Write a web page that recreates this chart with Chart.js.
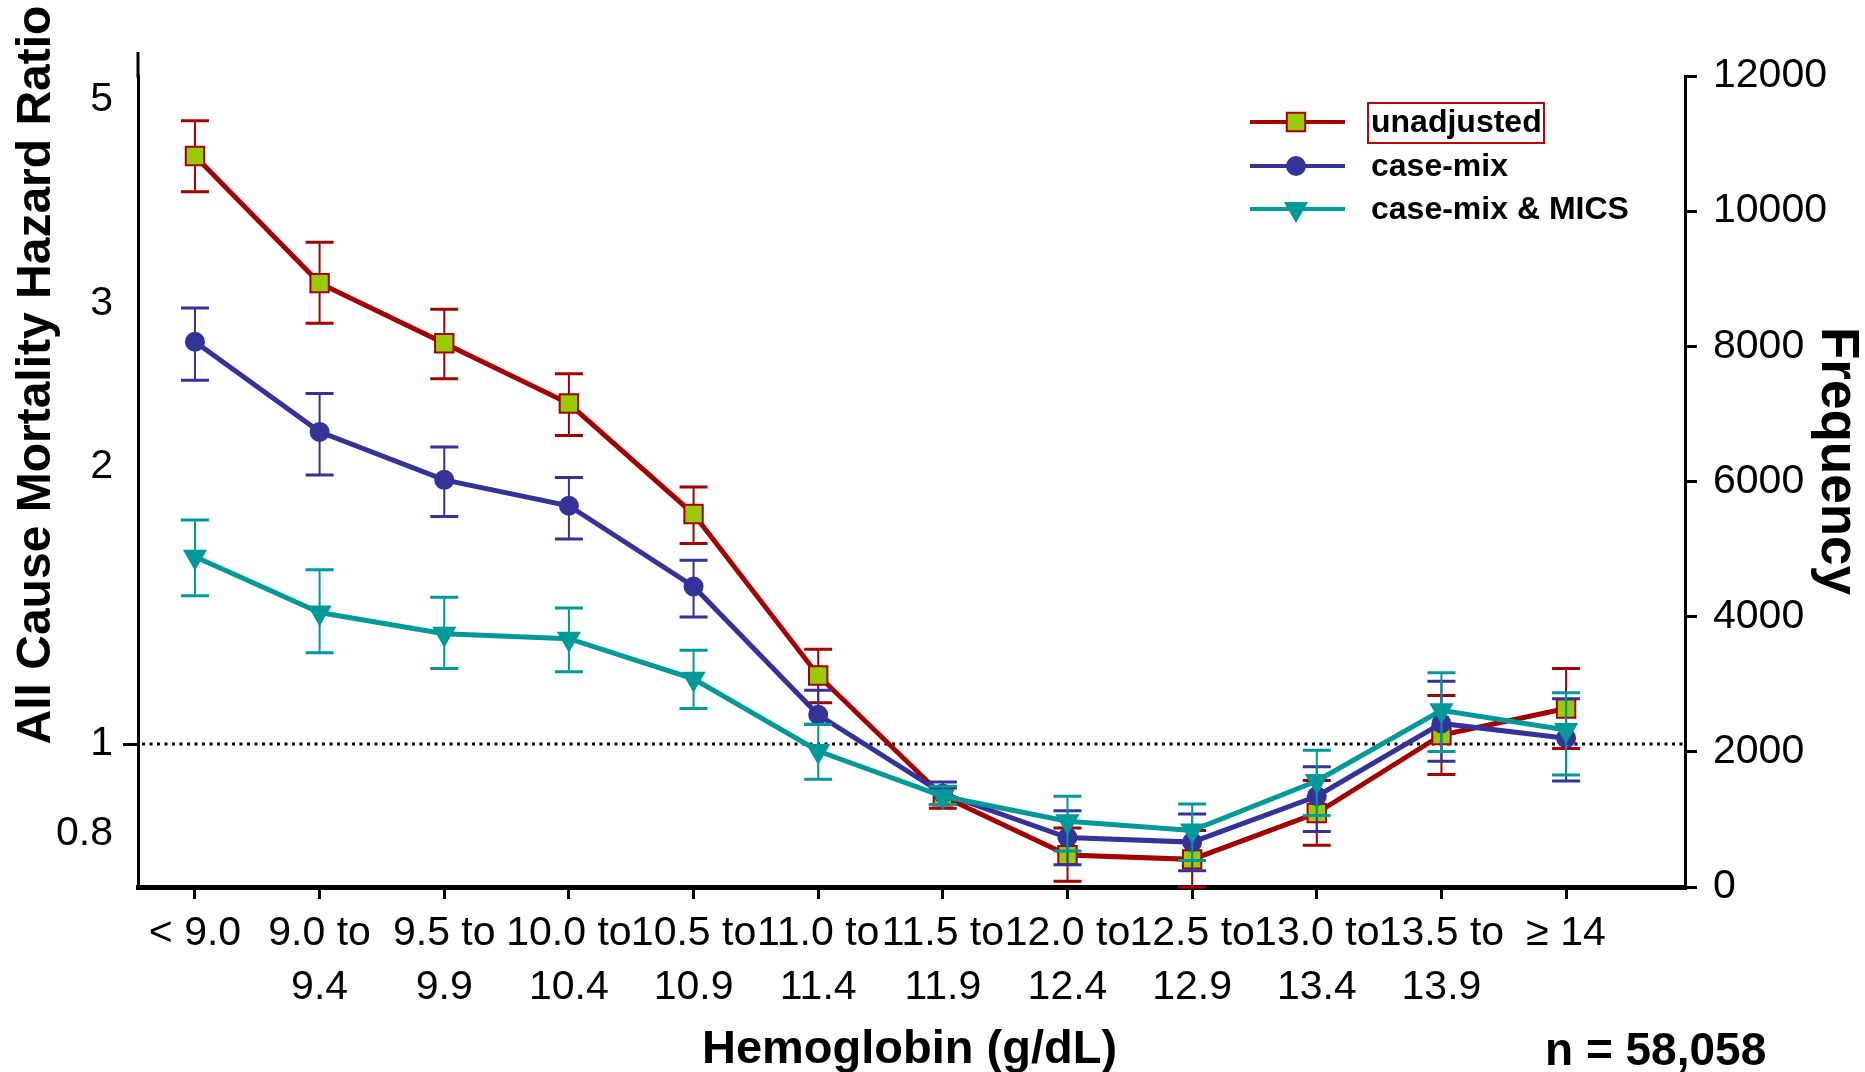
<!DOCTYPE html>
<html>
<head>
<meta charset="utf-8">
<title>Hemoglobin vs mortality hazard ratio</title>
<script src="https://cdn.jsdelivr.net/npm/chart.js@4/dist/chart.umd.min.js"></script>
<style>
  html, body { margin: 0; padding: 0; background: #fff; }
  canvas { display: block; }
</style>
</head>
<body>
<canvas id="hrChart" width="1865" height="1072"></canvas>
<script>
// hemoglobin categories (g/dL)
const hbLabels = [
  '< 9.0', ['9.0 to', '9.4'], ['9.5 to', '9.9'], ['10.0 to', '10.4'], ['10.5 to', '10.9'],
  ['11.0 to', '11.4'], ['11.5 to', '11.9'], ['12.0 to', '12.4'], ['12.5 to', '12.9'],
  ['13.0 to', '13.4'], ['13.5 to', '13.9'], '≥ 14'
];

// hazard ratios with 95% CI
const unadjHR = [4.34, 3.16, 2.72, 2.34, 1.776, 1.187, 0.878, 0.758, 0.750, 0.842, 1.023, 1.093];
const unadjLo = [3.97, 2.86, 2.49, 2.16, 1.65, 1.109, 0.852, 0.71, 0.70, 0.777, 0.927, 0.989];
const unadjHi = [4.74, 3.50, 2.96, 2.52, 1.90, 1.267, 0.896, 0.811, 0.806, 0.913, 1.129, 1.208];

const caseMixHR = [2.73, 2.18, 1.934, 1.813, 1.482, 1.076, 0.884, 0.792, 0.783, 0.878, 1.053, 1.015];
const caseMixLo = [2.48, 1.958, 1.765, 1.669, 1.373, 1.051, 0.86, 0.740, 0.729, 0.804, 0.958, 0.912];
const caseMixHi = [2.97, 2.40, 2.10, 1.946, 1.582, 1.144, 0.91, 0.847, 0.840, 0.945, 1.17, 1.12];

const micsHR = [1.596, 1.389, 1.317, 1.301, 1.177, 0.983, 0.878, 0.825, 0.806, 0.912, 1.088, 1.036];
const micsLo = [1.448, 1.256, 1.208, 1.198, 1.093, 0.916, 0.86, 0.766, 0.748, 0.837, 0.982, 0.926];
const micsHi = [1.75, 1.545, 1.443, 1.405, 1.264, 1.05, 0.90, 0.878, 0.861, 0.985, 1.195, 1.137];

const hrTicks = [0.8, 1, 2, 3, 5];
const freqTicks = [0, 2000, 4000, 6000, 8000, 10000, 12000];
const refLine = 1;

const seriesNames = ['unadjusted', 'case-mix', 'case-mix & MICS'];
const sampleNote = 'n = 58,058';

const FONT = "'Liberation Sans', Arial, Helvetica, sans-serif";
const RED = '#a30000';
const BLUE = '#333399';
const TEAL = '#009999';
const GREEN = '#99cc00';

Chart.defaults.font.family = FONT;
Chart.defaults.color = '#000';

const toPoints = arr => arr.map((v, i) => ({ x: i, y: v }));

const series = [
  { label: seriesNames[0], hr: unadjHR, lo: unadjLo, hi: unadjHi, color: RED,
    pointStyle: 'rect', radius: 13, rotation: 0, fill: GREEN, border: 2, order: 3 },
  { label: seriesNames[1], hr: caseMixHR, lo: caseMixLo, hi: caseMixHi, color: BLUE,
    pointStyle: 'circle', radius: 10, rotation: 0, fill: BLUE, border: 0, order: 2 },
  { label: seriesNames[2], hr: micsHR, lo: micsLo, hi: micsHi, color: TEAL,
    pointStyle: 'triangle', radius: 14, rotation: 180, fill: TEAL, border: 0, order: 1 },
];

// error bars, drawn just before each series' line and markers
const errorBars = {
  id: 'errorBars',
  beforeDatasetDraw(chart, args) {
    const ds = chart.data.datasets[args.index];
    const x = chart.scales.x, y = chart.scales.y;
    const ctx = chart.ctx;
    ctx.save();
    ctx.strokeStyle = ds.borderColor;
    ds.errLo.forEach((lo, i) => {
      const px = x.getPixelForValue(i);
      const pLo = y.getPixelForValue(lo);
      const pHi = y.getPixelForValue(ds.errHi[i]);
      ctx.lineWidth = 2;
      ctx.beginPath();
      ctx.moveTo(px, pLo);
      ctx.lineTo(px, pHi);
      ctx.stroke();
      ctx.lineWidth = 3;
      ctx.beginPath();
      ctx.moveTo(px - 14, pLo); ctx.lineTo(px + 14, pLo);
      ctx.moveTo(px - 14, pHi); ctx.lineTo(px + 14, pHi);
      ctx.stroke();
    });
    ctx.restore();
  }
};

// dotted HR = 1 line, axis stub, titles, legend
const decorations = {
  id: 'decorations',
  beforeDatasetsDraw(chart) {
    const { ctx, chartArea: a } = chart;
    const py = chart.scales.y.getPixelForValue(refLine);
    ctx.save();
    ctx.strokeStyle = '#000';
    ctx.lineWidth = 3;
    ctx.setLineDash([3, 4.5]);
    ctx.beginPath();
    ctx.moveTo(a.left + 4, py);
    ctx.lineTo(a.right - 2, py);
    ctx.stroke();
    ctx.setLineDash([]);
    // left axis runs a bit above the plot area
    ctx.beginPath();
    ctx.moveTo(a.left, a.top - 24);
    ctx.lineTo(a.left, a.top + 2);
    ctx.stroke();
    ctx.restore();
  },
  afterDraw(chart) {
    const { ctx, chartArea: a } = chart;
    ctx.save();
    ctx.fillStyle = '#000';
    ctx.textAlign = 'center';
    ctx.textBaseline = 'alphabetic';

    ctx.font = `bold 48px ${FONT}`;
    ctx.save();
    ctx.translate(50, 375);
    ctx.rotate(-Math.PI / 2);
    ctx.fillText('All Cause Mortality Hazard Ratio', 0, 0);
    ctx.restore();

    ctx.font = `bold 53px ${FONT}`;
    ctx.save();
    ctx.translate(1822, 461);
    ctx.rotate(Math.PI / 2);
    ctx.fillText('Frequency', 0, 0);
    ctx.restore();

    ctx.font = `bold 47px ${FONT}`;
    ctx.fillText('Hemoglobin (g/dL)', (a.left + a.right) / 2 - 2, 1063);

    ctx.font = `bold 46px ${FONT}`;
    ctx.textAlign = 'left';
    ctx.fillText(sampleNote, 1545, 1065);

    // legend
    const lx0 = 1250, lx1 = 1345, mx = 1296, tx = 1371;
    const rows = [122, 166, 209];
    ctx.font = `bold 32px ${FONT}`;
    ctx.textBaseline = 'middle';
    series.forEach((s, i) => {
      const ry = rows[i];
      ctx.strokeStyle = s.color;
      ctx.lineWidth = 4;
      ctx.beginPath();
      ctx.moveTo(lx0, ry);
      ctx.lineTo(lx1, ry);
      ctx.stroke();
      ctx.fillStyle = s.fill;
      ctx.strokeStyle = s.color;
      ctx.lineWidth = s.border;
      Chart.helpers.drawPoint(ctx, {
        pointStyle: s.pointStyle, radius: s.radius, rotation: s.rotation, borderWidth: s.border
      }, mx, ry);
      ctx.fillStyle = '#000';
      ctx.fillText(s.label, tx, ry + 1);
    });
    // highlight frame around the first legend entry
    ctx.strokeStyle = '#c00000';
    ctx.lineWidth = 2;
    ctx.strokeRect(1368, 103, 176, 40);
    ctx.restore();
  }
};

const datasets = series.map(s => ({
  label: s.label,
  data: toPoints(s.hr),
  errLo: s.lo,
  errHi: s.hi,
  borderColor: s.color,
  borderWidth: 5,
  backgroundColor: s.fill,
  pointStyle: s.pointStyle,
  pointRadius: s.radius,
  pointRotation: s.rotation,
  pointBackgroundColor: s.fill,
  pointBorderColor: s.color,
  pointBorderWidth: s.border,
  tension: 0,
  fill: false,
  order: s.order,
  yAxisID: 'y',
}));

const tickFont = { size: 41, lineHeight: 1.32 };

new Chart(document.getElementById('hrChart').getContext('2d'), {
  type: 'line',
  data: { datasets },
  options: {
    responsive: false,
    animation: false,
    events: [],
    layout: { padding: { top: 76, left: 0, right: 0, bottom: 0 } },
    plugins: {
      legend: { display: false },
      tooltip: { enabled: false },
    },
    scales: {
      x: {
        type: 'linear',
        min: -0.457,
        max: 11.954,
        afterBuildTicks: s => { s.ticks = hbLabels.map((_, i) => ({ value: i })); },
        afterFit: s => { s.height = 185; },
        ticks: {
          autoSkip: false,
          maxRotation: 0,
          minRotation: 0,
          padding: 8,
          color: '#000',
          font: tickFont,
          callback: v => hbLabels[v],
        },
        grid: { drawOnChartArea: false, drawTicks: true, tickLength: 12, color: '#000', lineWidth: 3 },
        border: { display: true, color: '#000', width: 5 },
      },
      y: {
        type: 'logarithmic',
        position: 'left',
        min: 0.704,
        max: 5.30,
        afterBuildTicks: s => { s.ticks = hrTicks.map(v => ({ value: v })); },
        afterFit: s => { s.width = 138; },
        ticks: {
          padding: 10,
          color: '#000',
          font: tickFont,
          callback: v => String(v),
        },
        grid: {
          drawOnChartArea: false,
          drawTicks: true,
          tickLength: 15,
          lineWidth: 3,
          color: c => (c.tick && c.tick.value === refLine ? '#000' : 'rgba(0,0,0,0)'),
        },
        border: { display: true, color: '#000', width: 3 },
      },
      y2: {
        type: 'linear',
        position: 'right',
        min: 0,
        max: 12000,
        afterBuildTicks: s => { s.ticks = freqTicks.map(v => ({ value: v })); },
        afterFit: s => { s.width = 180; },
        ticks: {
          padding: 16,
          color: '#000',
          font: tickFont,
          callback: v => String(v),
        },
        grid: { drawOnChartArea: false, drawTicks: true, tickLength: 12, color: '#000', lineWidth: 3 },
        border: { display: true, color: '#000', width: 3 },
      },
    },
  },
  plugins: [errorBars, decorations],
});
</script>
</body>
</html>
